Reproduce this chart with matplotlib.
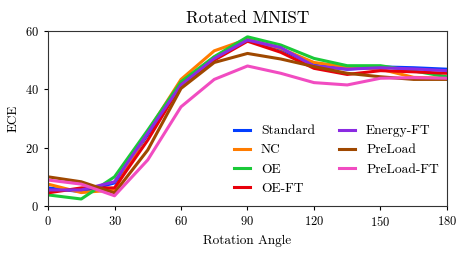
import numpy as np
import matplotlib
matplotlib.use("Agg")
import matplotlib.pyplot as plt

angles = [0, 15, 30, 45, 60, 75, 90, 105, 120, 135, 150, 165, 180]

standard = [6.2, 4.9, 7.9, 24.5, 42.0, 51.0, 56.9, 53.7, 48.3, 46.9, 47.7, 47.4, 46.9]
nc = [7.5, 4.6, 5.5, 25.5, 43.4, 53.2, 57.2, 54.0, 49.2, 47.7, 46.9, 44.1, 43.8]
oe = [3.8, 2.4, 10.0, 26.0, 42.6, 51.2, 58.0, 55.2, 50.6, 48.1, 48.1, 46.3, 44.3]
oe_ft = [4.5, 6.2, 6.2, 22.6, 41.5, 50.0, 56.5, 52.7, 47.2, 45.1, 46.4, 46.0, 45.5]
energy_ft = [5.5, 5.5, 8.3, 25.0, 41.5, 50.6, 56.9, 54.3, 48.0, 46.9, 47.4, 47.0, 46.4]
preload = [10.0, 8.3, 4.5, 19.2, 40.3, 49.2, 52.3, 50.4, 47.8, 45.5, 44.3, 43.4, 43.4]
preload_ft = [8.9, 7.5, 3.5, 15.8, 34.0, 43.4, 48.0, 45.5, 42.3, 41.5, 43.8, 44.0, 43.8]

series = [
    ("Standard", standard, "#023eff"),
    ("NC", nc, "#ff7c00"),
    ("OE", oe, "#1ac938"),
    ("OE-FT", oe_ft, "#e8000b"),
    ("Energy-FT", energy_ft, "#8b2be2"),
    ("PreLoad", preload, "#9f4800"),
    ("PreLoad-FT", preload_ft, "#f14cc1"),
]

plt.rcParams["font.family"] = ["cmr10", "DejaVu Serif"]
plt.rcParams["axes.formatter.use_mathtext"] = True
plt.rcParams["mathtext.fontset"] = "cm"

fig = plt.figure(figsize=(4.63, 2.54), dpi=100)
ax = fig.add_axes([0.1037, 0.189, 0.8617, 0.689])

for name, vals, col in series:
    ax.plot(angles, vals, color=col, linewidth=2.2, label=name)

ax.set_xlim(0, 180)
ax.set_ylim(0, 60)
ax.set_xticks([0, 30, 60, 90, 120, 150, 180])
ax.set_yticks([0, 20, 40, 60])
ax.tick_params(labelsize=9, length=3, width=0.8)
ax.set_xlabel("Rotation Angle", fontsize=9.5)
ax.set_ylabel("ECE", fontsize=9.5)
ax.set_title("Rotated MNIST", fontsize=12.4, pad=6)
for s in ax.spines.values():
    s.set_linewidth(0.8)
    s.set_color("#333333")

ax.legend(ncol=2, frameon=False, fontsize=9.7, handlelength=1.2,
          handletextpad=0.8, columnspacing=1.8, labelspacing=0.5,
          loc="lower right", bbox_to_anchor=(1.01, -0.005))

fig.savefig("out.png", dpi=100)
